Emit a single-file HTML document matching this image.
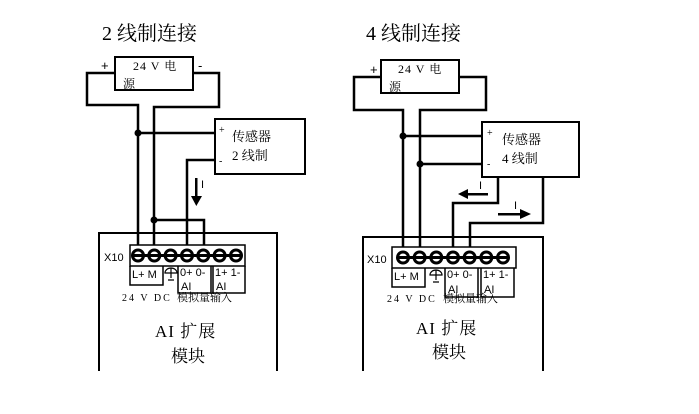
<!DOCTYPE html>
<html><head><meta charset="utf-8"><style>
html,body{margin:0;padding:0;background:#fff;width:699px;height:414px;overflow:hidden}
svg text{font-family:"Liberation Serif","Noto Serif CJK SC",serif;fill:#000}
.s{font-family:"Liberation Sans","Noto Sans CJK SC",sans-serif}
</style></head><body>
<svg width="699" height="414" viewBox="0 0 699 414" xmlns="http://www.w3.org/2000/svg">
<g fill="none" stroke="#000" stroke-width="2.5">
<!-- LEFT -->
<rect x="115" y="57" width="78" height="33" stroke-width="2"/>
<polyline points="115,73 87,73 87,105 138,105 138,245"/>
<polyline points="193,73 219,73 219,107 154,107 154,245"/>
<line x1="138" y1="133" x2="215" y2="133"/>
<rect x="215" y="119" width="90" height="55" stroke-width="2"/>
<polyline points="215,160 187,160 187,245"/>
<polyline points="154,220 204,220 204,245"/>
<polyline points="99,371 99,233 277,233 277,371" stroke-width="2"/>
<rect x="130" y="245" width="115" height="21" stroke-width="1.5"/>
<polyline points="130,266 130,285 163,285 163,266" stroke-width="1.5"/>
<polyline points="178,266 178,293 211,293 211,266" stroke-width="1.5"/>
<polyline points="213,266 213,293 245,293 245,266" stroke-width="1.5"/>
<!-- RIGHT -->
<rect x="381" y="60" width="78" height="33" stroke-width="2"/>
<polyline points="381,77 354,77 354,110 403,110 403,247"/>
<polyline points="459,77 486,77 486,110 420,110 420,247"/>
<line x1="403" y1="136" x2="482" y2="136"/>
<line x1="420" y1="164" x2="482" y2="164"/>
<rect x="482" y="122" width="97" height="55" stroke-width="2"/>
<polyline points="498,177 498,203 453,203 453,247"/>
<polyline points="543,177 543,223 470,223 470,247"/>
<polyline points="363,371 363,237 543,237 543,371" stroke-width="2"/>
<rect x="392" y="247" width="124" height="21" stroke-width="1.5"/>
<polyline points="392,268 392,287 425,287 425,268" stroke-width="1.5"/>
<polyline points="445,268 445,297 478,297 478,268" stroke-width="1.5"/>
<polyline points="481,268 481,297 514,297 514,268" stroke-width="1.5"/>
</g>
<g fill="#000">
<circle cx="138" cy="133" r="3.5"/><circle cx="154" cy="220" r="3.5"/>
<circle cx="403" cy="136" r="3.5"/><circle cx="420" cy="164" r="3.5"/>
<rect x="195" y="178" width="2.5" height="20"/><polygon points="191,196 202,196 196.3,206"/>
<rect x="466" y="193" width="22" height="2.5"/><polygon points="468,189 468,199 458,194"/>
<rect x="498" y="213" width="24" height="2.5"/><polygon points="520,209 520,219 531,214"/>
</g>
<g fill="none" stroke="#000" stroke-width="3">
<circle cx="138" cy="255.5" r="5.5"/><circle cx="154.3" cy="255.5" r="5.5"/><circle cx="170.6" cy="255.5" r="5.5"/><circle cx="187" cy="255.5" r="5.5"/><circle cx="203.3" cy="255.5" r="5.5"/><circle cx="219.6" cy="255.5" r="5.5"/><circle cx="236" cy="255.5" r="5.5"/>
<line x1="132" y1="255.5" x2="242" y2="255.5"/>
<circle cx="403" cy="257.5" r="5.5"/><circle cx="419.6" cy="257.5" r="5.5"/><circle cx="436.3" cy="257.5" r="5.5"/><circle cx="453" cy="257.5" r="5.5"/><circle cx="469.6" cy="257.5" r="5.5"/><circle cx="486.3" cy="257.5" r="5.5"/><circle cx="503" cy="257.5" r="5.5"/>
<line x1="397" y1="257.5" x2="509" y2="257.5"/>
<path d="M165,273 a6,5 0 0 1 12,0 z M171,268 v10 M168,280 h6" stroke-width="1.2"/>
<path d="M430,275 a6,5 0 0 1 12,0 z M436,270 v10 M433,282 h6" stroke-width="1.2"/>
</g>
<text x="102" y="40" font-size="20">2 线制连接</text>
<text x="366" y="40" font-size="20">4 线制连接</text>
<text x="133" y="70" font-size="12" letter-spacing="1">24 V 电</text><text x="123" y="88" font-size="12">源</text>
<text x="101" y="70" font-size="13" class="s">+</text><text x="198" y="70" font-size="13" class="s">-</text>
<text x="398" y="73" font-size="12" letter-spacing="1">24 V 电</text><text x="389" y="91" font-size="12">源</text>
<text x="370" y="74" font-size="13" class="s">+</text>
<text x="219" y="133" font-size="10">+</text><text x="232" y="141" font-size="13">传感器</text>
<text x="219" y="164" font-size="10">-</text><text x="232" y="160" font-size="13">2 线制</text>
<text x="487" y="136" font-size="10">+</text><text x="502" y="144" font-size="13">传感器</text>
<text x="487" y="167" font-size="10">-</text><text x="502" y="163" font-size="13">4 线制</text>
<text x="201" y="188" font-size="11" class="s">I</text>
<text x="479" y="189" font-size="11" class="s">I</text>
<text x="514" y="209" font-size="11" class="s">I</text>
<text x="104" y="261" font-size="11" class="s">X10</text>
<text x="367" y="263" font-size="11" class="s">X10</text>
<g font-size="11">
<text x="132" y="278" class="s">L+ M</text>
<text x="180" y="276" class="s">0+ 0-</text><text x="181" y="290" class="s">AI</text>
<text x="215" y="276" class="s">1+ 1-</text><text x="216" y="290" class="s">AI</text>
<text x="394" y="280" class="s">L+ M</text>
<text x="447" y="278" class="s">0+ 0-</text><text x="448" y="293" class="s">AI</text>
<text x="483" y="278" class="s">1+ 1-</text><text x="484" y="293" class="s">AI</text>
</g>
<text x="122" y="301" font-size="10" letter-spacing="2">24 V DC</text><text x="177" y="301" font-size="11">模拟量输入</text>
<text x="387" y="302" font-size="10" letter-spacing="2">24 V DC</text><text x="443" y="302" font-size="11">模拟量输入</text>
<text x="155" y="337" font-size="17" letter-spacing="1">AI 扩展</text><text x="171" y="362" font-size="17">模块</text>
<text x="416" y="334" font-size="17" letter-spacing="1">AI 扩展</text><text x="432" y="358" font-size="17">模块</text>
</svg>
</body></html>
